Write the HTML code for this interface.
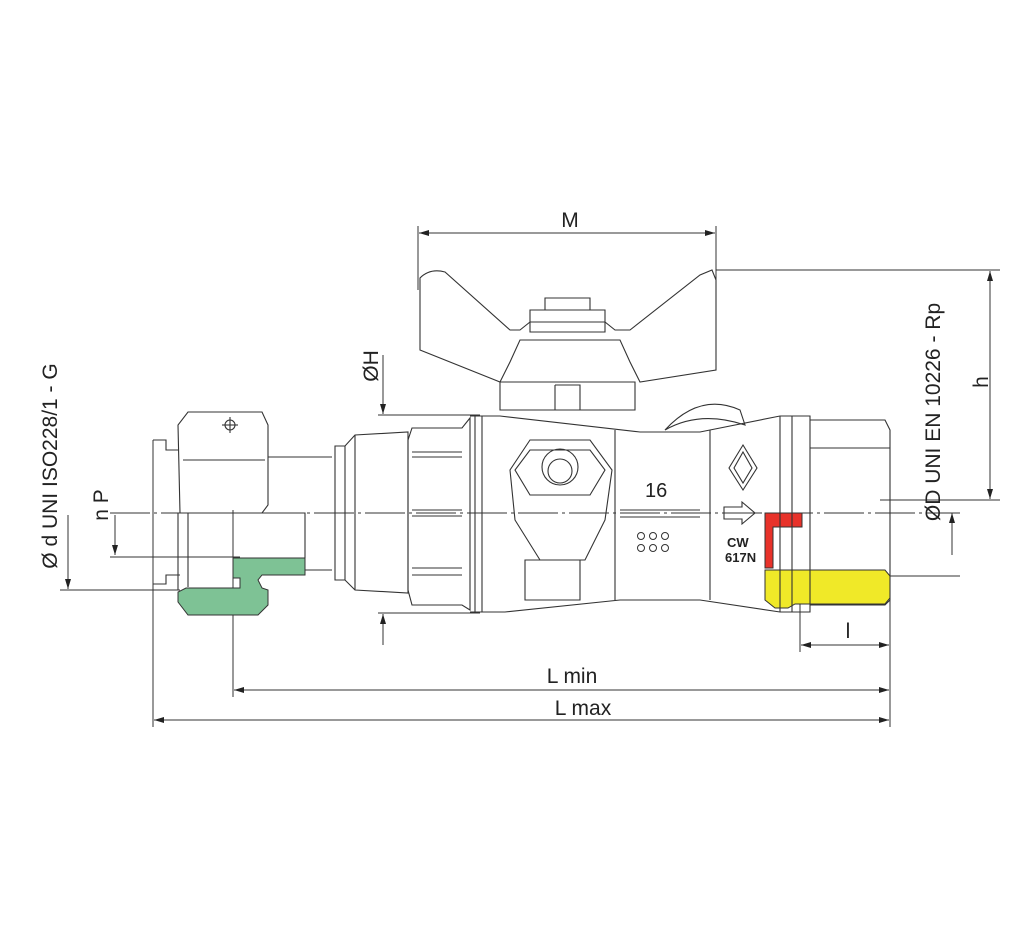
<!DOCTYPE html>
<html><head><meta charset="utf-8"><style>
html,body{margin:0;padding:0;background:#fff}
svg{display:block}
text{font-family:"Liberation Sans",Arial,sans-serif;fill:#222}
</style></head><body>
<svg width="1024" height="946" viewBox="0 0 1024 946" xmlns="http://www.w3.org/2000/svg">
<defs>
<marker id="a" markerWidth="10" markerHeight="6" refX="10" refY="3" orient="auto-start-reverse" markerUnits="userSpaceOnUse"><path d="M0,0 L10,3 L0,6 z" fill="#222"/></marker>
</defs>
<g stroke="#333" stroke-width="1" fill="none">
<!-- M dimension -->
<line x1="418" y1="226" x2="418" y2="290"/>
<line x1="716" y1="226" x2="716" y2="300"/>
<line x1="419" y1="233" x2="715" y2="233" marker-start="url(#a)" marker-end="url(#a)"/>
<!-- h dimension -->
<line x1="716" y1="270" x2="1000" y2="270"/>
<line x1="880" y1="500" x2="1000" y2="500"/>
<line x1="990" y1="271" x2="990" y2="499" marker-start="url(#a)" marker-end="url(#a)"/>
<!-- OD -->
<line x1="952" y1="513" x2="952" y2="555" marker-start="url(#a)"/>
<line x1="890" y1="576" x2="960" y2="576"/>
<!-- OH -->
<line x1="383" y1="355" x2="383" y2="414" marker-end="url(#a)"/>
<line x1="383" y1="614" x2="383" y2="645" marker-start="url(#a)"/>
<line x1="378" y1="415" x2="480" y2="415"/>
<line x1="378" y1="613" x2="480" y2="613"/>
<!-- left dims -->
<line x1="68" y1="515" x2="68" y2="589" marker-end="url(#a)"/>
<line x1="60" y1="590" x2="180" y2="590"/>
<line x1="115" y1="515" x2="115" y2="555" marker-end="url(#a)"/>
<line x1="110" y1="557" x2="240" y2="557"/>
<line x1="110" y1="513" x2="960" y2="513" stroke-dasharray="40,4,3,4"/>
<!-- L dims -->
<line x1="153" y1="440" x2="153" y2="727"/>
<line x1="233" y1="510" x2="233" y2="697"/>
<line x1="890" y1="575" x2="890" y2="727"/>
<line x1="800" y1="600" x2="800" y2="652"/>
<line x1="234" y1="690" x2="889" y2="690" marker-start="url(#a)" marker-end="url(#a)"/>
<line x1="154" y1="720" x2="889" y2="720" marker-start="url(#a)" marker-end="url(#a)"/>
<line x1="801" y1="645" x2="889" y2="645" marker-start="url(#a)" marker-end="url(#a)"/>
</g>

<!-- colored parts -->
<path d="M233,558 L305,558 L305,575 L262,575 L258,580 L262,588 L268,590 L268,605 L258,615 L188,615 L178,602 L178,592 L186,588 L240,588 L240,578 L233,578 Z" fill="#7ec295" stroke="#333" stroke-width="1"/>
<path d="M765,570 L885,570 L890,576 L890,598 L885,604 L795,604 L788,608 L775,608 L765,600 Z" fill="#f0e928" stroke="#333"/>
<path d="M765,513 L802,513 L802,527 L773,527 L773,568 L765,568 Z" fill="#e8322a" stroke="#333"/>

<g stroke="#333" stroke-width="1.1" fill="none">
<!-- left union nut -->
<path d="M188,412 L262,412 L268,425 L268,505 L262,513 L180,513 L178,425 Z"/>
<line x1="183" y1="460" x2="265" y2="460"/>
<path d="M153,440 L166,440 L166,450 L178,450"/>
<path d="M153,584 L166,584 L166,575 L180,575"/>
<line x1="178" y1="513" x2="178" y2="590"/>
<line x1="188" y1="513" x2="188" y2="587"/>
<circle cx="230" cy="425" r="5"/><line x1="222" y1="425" x2="238" y2="425"/><line x1="230" y1="417" x2="230" y2="433"/>
<path d="M233,513 L305,513 L305,558"/>
<line x1="268" y1="457" x2="332" y2="457"/>
<line x1="305" y1="570" x2="332" y2="570"/>
<!-- tail -->
<path d="M335,446 L345,446 L355,435 L408,432 L408,593 L355,590 L345,580 L335,580 Z"/>
<line x1="345" y1="446" x2="345" y2="580"/><line x1="355" y1="435" x2="355" y2="590"/>
<!-- big nut -->
<path d="M412,428 L462,428 L470,418 L470,610 L462,605 L412,605 L408,590 L408,440 Z"/>
<line x1="412" y1="452" x2="462" y2="452"/><line x1="412" y1="457" x2="462" y2="457"/>
<line x1="412" y1="510" x2="462" y2="510"/><line x1="412" y1="516" x2="462" y2="516"/>
<line x1="412" y1="568" x2="462" y2="568"/><line x1="412" y1="575" x2="462" y2="575"/>
<line x1="475" y1="416" x2="475" y2="612"/><line x1="482" y1="416" x2="482" y2="612"/>
<!-- body -->
<path d="M470,416 L500,416 L640,432 L700,432 L780,416 L810,416 L810,612 L780,612 L700,600 L620,600 L505,612 L470,612"/>
<line x1="615" y1="430" x2="615" y2="600"/><line x1="710" y1="430" x2="710" y2="600"/>
<line x1="780" y1="416" x2="780" y2="612"/><line x1="792" y1="416" x2="792" y2="612"/>
<line x1="620" y1="510" x2="700" y2="510"/><line x1="620" y1="517" x2="700" y2="517"/>
<!-- stem/valve port -->
<path d="M530,440 L590,440 L612,470 L605,520 L585,560 L540,560 L515,520 L510,470 Z"/>
<path d="M530,450 L590,450 L605,470 L590,495 L530,495 L515,470 Z"/>
<circle cx="560" cy="467" r="18"/><circle cx="560" cy="471" r="12"/>
<path d="M525,560 L580,560 L580,600 L525,600 Z"/>
<!-- right end -->
<path d="M810,420 L885,420 L890,430 L890,600 L885,605 L810,605"/>
<line x1="810" y1="448" x2="890" y2="448"/>
<!-- handle -->
<path d="M420,278 Q430,268 445,272 L510,330 L520,330 L530,322 L605,322 L615,330 L630,330 L700,275 L712,270 L716,280 L716,370 L640,382 L630,362 L620,340 L520,340 L510,362 L500,382 L420,350 Z"/>
<path d="M500,382 L635,382 L635,410 L500,410 Z"/>
<path d="M555,385 L580,385 L580,410"/><line x1="555" y1="385" x2="555" y2="410"/>
<path d="M530,310 L605,310 L605,332 L530,332 Z"/>
<path d="M545,298 L590,298 L590,310 L545,310 Z"/>
<path d="M665,430 Q700,392 740,410 L745,425 Q700,410 665,430 Z"/>
<!-- diamond logo -->
<path d="M743,445 L757,468 L743,490 L729,468 Z"/>
<path d="M743,452 L752,468 L743,483 L734,468 Z"/>
<!-- arrow -->
<path d="M724,507 L742,507 L742,502 L755,513 L742,524 L742,519 L724,519 Z"/>
</g>
<g fill="none" stroke="#333" stroke-width="1">
<circle cx="641" cy="536" r="3.5"/><circle cx="653" cy="536" r="3.5"/><circle cx="665" cy="536" r="3.5"/>
<circle cx="641" cy="548" r="3.5"/><circle cx="653" cy="548" r="3.5"/><circle cx="665" cy="548" r="3.5"/>
</g>
<text x="645" y="497" font-size="20">16</text>
<text x="727" y="547" font-size="13" font-weight="bold">CW</text>
<text x="725" y="562" font-size="13" font-weight="bold">617N</text>

<!-- labels -->
<text x="570" y="227" font-size="21" text-anchor="middle">M</text>
<text x="572" y="683" font-size="21" text-anchor="middle">L min</text>
<text x="583" y="715" font-size="21" text-anchor="middle">L max</text>
<text x="848" y="638" font-size="21" text-anchor="middle">l</text>
<text transform="translate(988,382) rotate(-90)" font-size="21" text-anchor="middle">h</text>
<text transform="translate(940,412) rotate(-90)" font-size="21" text-anchor="middle">ØD UNI EN 10226 - Rp</text>
<text transform="translate(378,366) rotate(-90)" font-size="21" text-anchor="middle">ØH</text>
<text transform="translate(108,505) rotate(-90)" font-size="21" text-anchor="middle">n P</text>
<text transform="translate(57,466) rotate(-90)" font-size="21" text-anchor="middle">Ø d UNI ISO228/1 - G</text>
</svg>
</body></html>
